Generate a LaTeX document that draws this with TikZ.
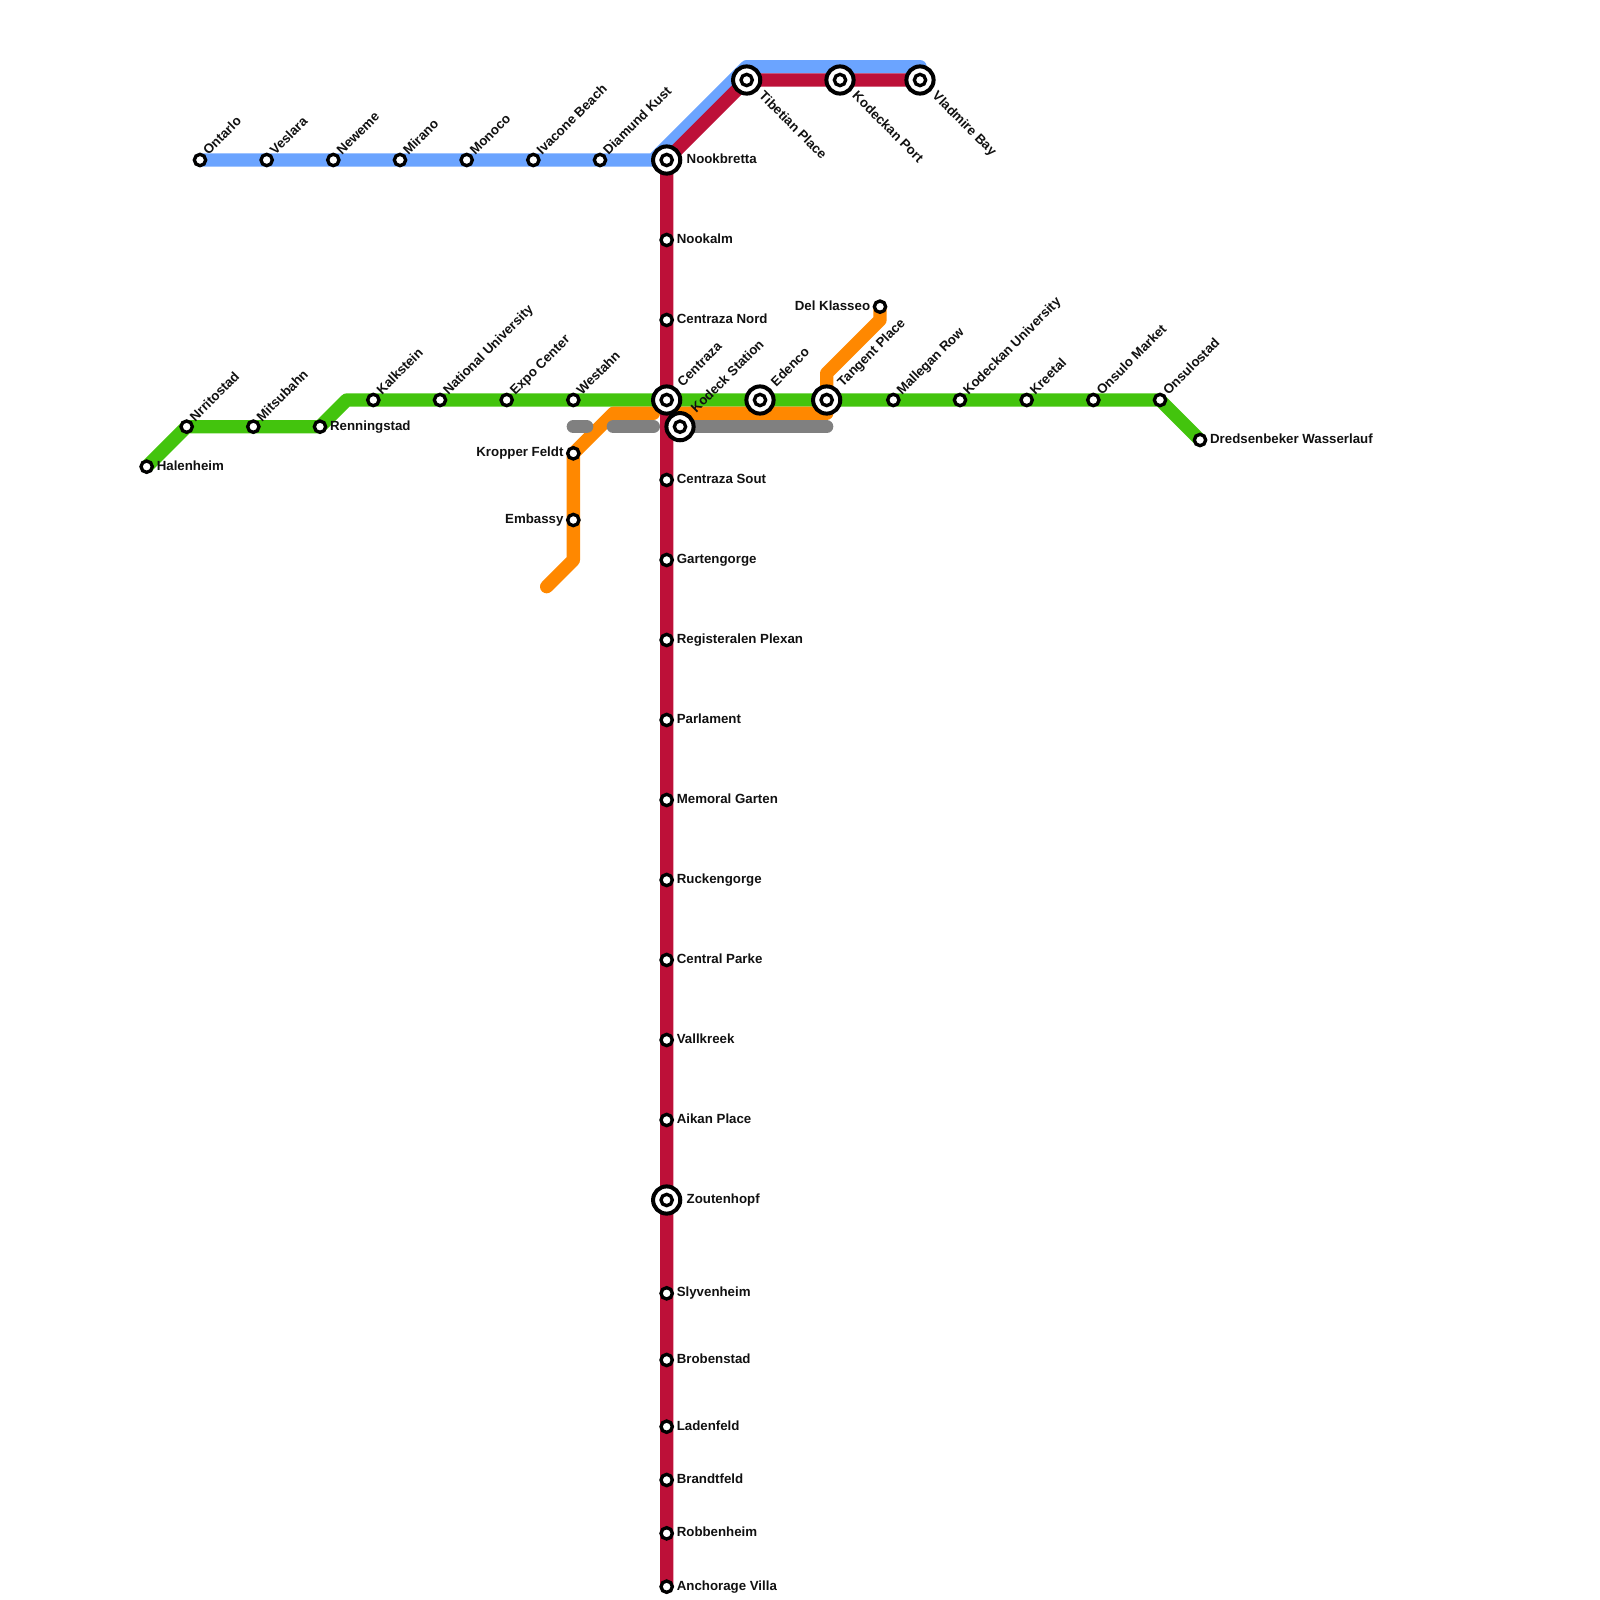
\documentclass[tikz,border=0pt]{standalone}
\usepackage{fontspec}
\setmainfont{Liberation Sans}
\pgfdeclarelayer{lines}
\pgfsetlayers{lines,main}
\definecolor{cred}{HTML}{BD1038}
\definecolor{cblue}{HTML}{6BA4FF}
\definecolor{cgreen}{HTML}{43C40D}
\definecolor{corange}{HTML}{FF8800}
\definecolor{cgray}{HTML}{808080}
\definecolor{ctext}{HTML}{111111}
\tikzset{
  x=0.5cm,y=-0.5cm,
  metro/.style={line width=0.5cm,line cap=round,line join=round},
  station/.style={circle,draw=black,fill=white,line width=0.125cm,inner sep=0pt,outer sep=0pt,minimum size=0.425cm},
  xring/.style={circle,draw=black,fill=white,line width=0.15cm,inner sep=0pt,outer sep=0pt,minimum size=1.02cm},
  xcore/.style={circle,draw=black,fill=white,line width=0.125cm,inner sep=0pt,outer sep=0pt,minimum size=0.425cm},
  lbl/.style={font=\fontsize{14.17pt}{16pt}\selectfont\bfseries,text=ctext,inner sep=0pt,outer sep=0pt},
  lblR/.style={lbl,anchor=base west},
  lblL/.style={lbl,anchor=base east},
  lblU/.style={lbl,anchor=base west,rotate=45},
  lblD/.style={lbl,anchor=base west,rotate=-45},
}
\newcommand\stR[4]{\node[station] (#1) at (#2,#3) {}; \node[lblR] (#1-l) at ([shift={(0.76,0.27)}]#1.center) {#4};}
\newcommand\stL[4]{\node[station] (#1) at (#2,#3) {}; \node[lblL] (#1-l) at ([shift={(-0.74,0.27)}]#1.center) {#4};}
\newcommand\stU[4]{\node[station] (#1) at (#2,#3) {}; \node[lblU] (#1-l) at ([shift={(0.65,-0.33)}]#1.center) {#4};}
\newcommand\xR[4]{\node[xring] (#1) at (#2,#3) {}; \node[xcore] (#1-c) at (#2,#3) {}; \node[lblR] (#1-l) at ([shift={(1.5,0.27)}]#1.center) {#4};}
\newcommand\xU[4]{\node[xring] (#1) at (#2,#3) {}; \node[xcore] (#1-c) at (#2,#3) {}; \node[lblU] (#1-l) at ([shift={(1.22,-0.97)}]#1.center) {#4};}
\newcommand\xD[4]{\node[xring] (#1) at (#2,#3) {}; \node[xcore] (#1-c) at (#2,#3) {}; \node[lblD] (#1-l) at ([shift={(0.88,1.27)}]#1.center) {#4};}
\begin{document}
\begin{tikzpicture}
\useasboundingbox (0,0) rectangle (120,120);
% blue line stations
\stU{ontarlo}{15}{12}{Ontarlo}
\stU{veslara}{20}{12}{Veslara}
\stU{neweme}{25}{12}{Neweme}
\stU{mirano}{30}{12}{Mirano}
\stU{monoco}{35}{12}{Monoco}
\stU{ivacone}{40}{12}{Ivacone Beach}
\stU{diamund}{45}{12}{Diamund Kust}
\xR{nook}{50}{12}{Nookbretta}
\xD{tibet}{56}{6}{Tibetian Place}
\xD{kodport}{63}{6}{Kodeckan Port}
\xD{vlad}{69}{6}{Vladmire Bay}
% red line stations
\stR{nookalm}{50}{18}{Nookalm}
\stR{cnord}{50}{24}{Centraza Nord}
\xU{centraza}{50}{30}{Centraza}
\stR{csout}{50}{36}{Centraza Sout}
\stR{garten}{50}{42}{Gartengorge}
\stR{regis}{50}{48}{Registeralen Plexan}
\stR{parl}{50}{54}{Parlament}
\stR{memoral}{50}{60}{Memoral Garten}
\stR{rucken}{50}{66}{Ruckengorge}
\stR{cpark}{50}{72}{Central Parke}
\stR{vall}{50}{78}{Vallkreek}
\stR{aikan}{50}{84}{Aikan Place}
\xR{zouten}{50}{90}{Zoutenhopf}
\stR{slyven}{50}{97}{Slyvenheim}
\stR{broben}{50}{102}{Brobenstad}
\stR{laden}{50}{107}{Ladenfeld}
\stR{brandt}{50}{111}{Brandtfeld}
\stR{robben}{50}{115}{Robbenheim}
\stR{anch}{50}{119}{Anchorage Villa}
% green line stations
\stR{halen}{11}{35}{Halenheim}
\stU{nrrit}{14}{32}{Nrritostad}
\stU{mitsu}{19}{32}{Mitsubahn}
\stR{renn}{24}{32}{Renningstad}
\stU{kalk}{28}{30}{Kalkstein}
\stU{natl}{33}{30}{National University}
\stU{expo}{38}{30}{Expo Center}
\stU{west}{43}{30}{Westahn}
\xU{edenco}{57}{30}{Edenco}
\xU{tangent}{62}{30}{Tangent Place}
\stU{malle}{67}{30}{Mallegan Row}
\stU{kodu}{72}{30}{Kodeckan University}
\stU{kreetal}{77}{30}{Kreetal}
\stU{onsm}{82}{30}{Onsulo Market}
\stU{onss}{87}{30}{Onsulostad}
\stR{dred}{90}{33}{Dredsenbeker Wasserlauf}
% orange stations
\stL{delk}{66}{23}{Del Klasseo}
\stL{kropper}{43}{34}{Kropper Feldt}
\stL{embassy}{43}{39}{Embassy}
% gray interchange
\xU{kodeck}{51}{32}{Kodeck Station}
% bends
\coordinate (bBlueA) at (49,12);
\coordinate (bBlueB) at (56,5);
\coordinate (bBlueC) at (69,5);
\coordinate (bGreen) at (26,30);
\coordinate (bOrA) at (66,24);
\coordinate (bOrB) at (62,28);
\coordinate (bOrC) at (62,31);
\coordinate (bOrD) at (51,31);
\coordinate (bOrE) at (49,31);
\coordinate (bOrF) at (46,31);
\coordinate (bOrG) at (43,42);
\coordinate (bOrH) at (41,44);
\coordinate (gA) at (44,32);
\coordinate (gB) at (46,32);
\coordinate (gC) at (49,32);
\coordinate (gD) at (62,32);
\begin{pgfonlayer}{lines}
\draw[metro,cblue] (ontarlo.center) -- (veslara.center) -- (neweme.center) -- (mirano.center) -- (monoco.center) -- (ivacone.center) -- (diamund.center) -- (bBlueA) -- (bBlueB) -- (bBlueC);
\draw[metro,cgreen] (halen.center) -- (nrrit.center) -- (mitsu.center) -- (renn.center) -- (bGreen) -- (kalk.center) -- (natl.center) -- (expo.center) -- (west.center) -- (centraza.center) -- (edenco.center) -- (tangent.center) -- (malle.center) -- (kodu.center) -- (kreetal.center) -- (onsm.center) -- (onss.center) -- (dred.center);
\draw[metro,corange] (delk.center) -- (bOrA) -- (bOrB) -- (bOrC) -- (bOrD);
\draw[metro,corange] (bOrE) -- (bOrF) -- (kropper.center) -- (embassy.center) -- (bOrG) -- (bOrH);
\draw[metro,cgray] (west.center |- kodeck.center) -- (gA);
\draw[metro,cgray] (gB) -- (gC);
\draw[metro,cgray] (kodeck.center) -- (gD);
\draw[metro,cred] (vlad.center) -- (kodport.center) -- (tibet.center) -- (nook.center) -- (nookalm.center) -- (cnord.center) -- (centraza.center) -- (csout.center) -- (garten.center) -- (regis.center) -- (parl.center) -- (memoral.center) -- (rucken.center) -- (cpark.center) -- (vall.center) -- (aikan.center) -- (zouten.center) -- (slyven.center) -- (broben.center) -- (laden.center) -- (brandt.center) -- (robben.center) -- (anch.center);
\end{pgfonlayer}
\end{tikzpicture}
\end{document}
